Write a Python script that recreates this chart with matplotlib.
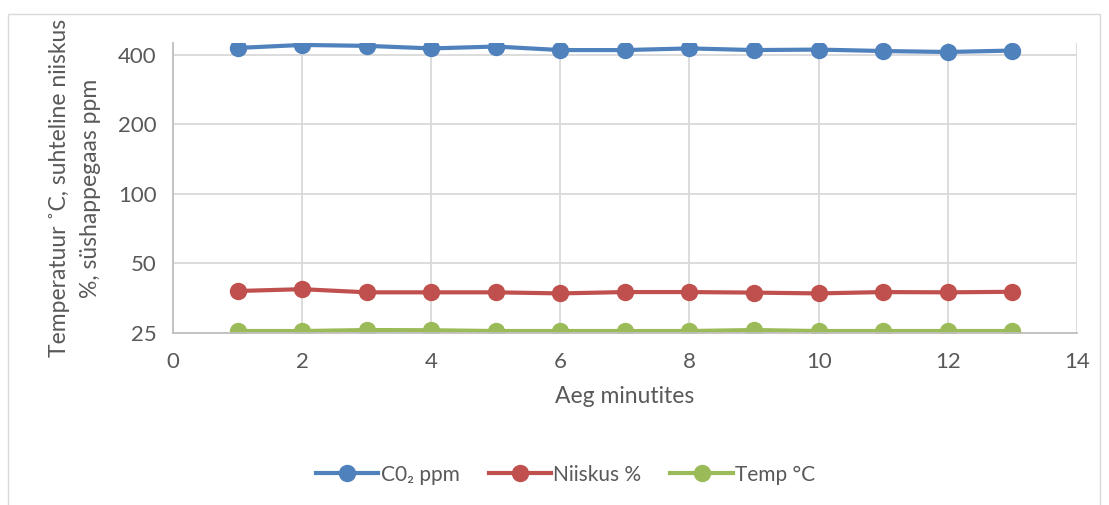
import matplotlib.pyplot as plt
from matplotlib.ticker import FixedLocator, NullLocator, FixedFormatter
from matplotlib.patches import Rectangle

# andmed
minutid = [1, 2, 3, 4, 5, 6, 7, 8, 9, 10, 11, 12, 13]
co2 = [429, 442, 438, 427, 435, 420, 420, 427, 420, 422, 416, 412, 418]
niiskus = [38.0, 38.7, 37.5, 37.5, 37.5, 37.1, 37.6, 37.6, 37.4, 37.1, 37.6, 37.5, 37.7]
temp = [25.5, 25.5, 25.75, 25.7, 25.5, 25.5, 25.5, 25.5, 25.75, 25.5, 25.5, 25.5, 25.5]
y_ticks = [25, 50, 100, 200, 400]
x_ticks = [0, 2, 4, 6, 8, 10, 12, 14]

plt.rcParams['font.family'] = ['Lato', 'DejaVu Sans']
grey = '#595959'

fig = plt.figure(figsize=(11.09, 5.05), dpi=100)
ax = fig.add_axes([0.156, 0.3406, 0.815, 0.5744])

ax.plot(minutid, co2, color='#4f81bd', lw=3, marker='o', ms=11.5, label='C0₂ ppm')
ax.plot(minutid, niiskus, color='#c0504d', lw=3, marker='o', ms=11.5, label='Niiskus %')
ax.plot(minutid, temp, color='#9bbb59', lw=3, marker='o', ms=11.5, label='Temp °C')

ax.set_yscale('log', base=2)
ax.set_ylim(25, 451)
ax.set_xlim(0, 14)
ax.yaxis.set_major_locator(FixedLocator(y_ticks))
ax.yaxis.set_major_formatter(FixedFormatter([str(v) for v in y_ticks]))
ax.yaxis.set_minor_locator(NullLocator())
ax.set_xticks(x_ticks)

ax.grid(True, color='#d9d9d9', lw=1.3)
ax.set_axisbelow(True)
for s in ['top', 'right']:
    ax.spines[s].set_visible(False)
for s in ['left', 'bottom']:
    ax.spines[s].set_color('#bfbfbf')
    ax.spines[s].set_linewidth(1.3)
ax.tick_params(length=0, labelsize=16, labelcolor=grey)
ax.tick_params(axis='x', pad=14)
ax.tick_params(axis='y', pad=12)

ax.set_xlabel('Aeg minutites', fontsize=16.5, color=grey, labelpad=10)
ax.set_ylabel('Temperatuur ˚C, suhteline niiskus\n%, süshappegaas ppm', fontsize=16.5,
              color=grey, labelpad=12, linespacing=1.6)

leg = ax.legend(loc='center', bbox_to_anchor=(0.51, 0.06), bbox_transform=fig.transFigure,
                ncol=3, frameon=False, fontsize=15, labelcolor=grey,
                handlelength=3.0, handletextpad=0.1, columnspacing=1.4)

fig.patches.append(Rectangle((0.007, -0.1), 0.985, 1.072, transform=fig.transFigure,
                             fill=False, edgecolor='#d9d9d9', lw=1))

fig.savefig('out.png', dpi=100)
